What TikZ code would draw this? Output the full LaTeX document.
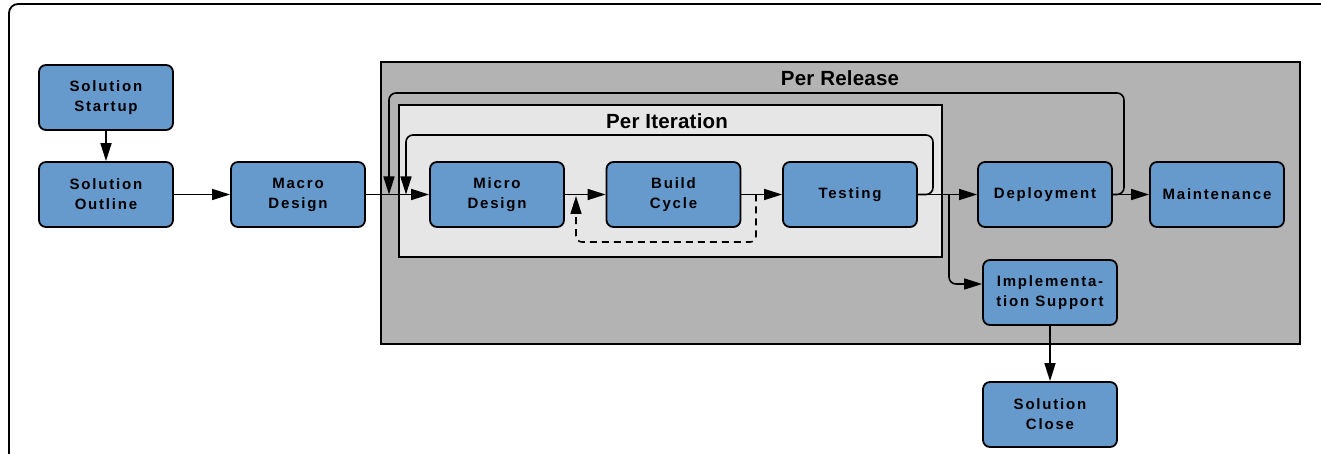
\documentclass[tikz,border=0pt]{standalone}
\usepackage{fontspec}
\setmainfont{Liberation Sans}
\newfontfamily\boxfam[LetterSpace=12]{Liberation Sans}
\newfontfamily\titlefam[LetterSpace=1]{Liberation Sans}
\usetikzlibrary{arrows.meta}
\definecolor{boxblue}{HTML}{6699CC}
\definecolor{relgray}{HTML}{B3B3B3}
\definecolor{itgray}{HTML}{E6E6E6}
\begin{document}
\begin{tikzpicture}[x=1pt,y=-1pt,
  stepbox/.style={draw, line width=1.8pt, rounded corners=7pt, fill=boxblue,
    minimum width=134pt, minimum height=65pt, align=center, inner sep=0pt,
    font=\boxfam\bfseries\fontsize{15}{20}\selectfont},
  conn/.style={line width=1.6pt, -{Triangle[length=18pt,width=11pt]}},
  region/.style={draw, line width=1.8pt},
  title/.style={font=\titlefam\bfseries\fontsize{20.5}{22}\selectfont, inner sep=0pt}]
\useasboundingbox (0,0) rectangle (1321,454);
% outer frame
\draw[line width=1.8pt, rounded corners=9pt] (9,4) rectangle (1345,480);
% regions
\draw[region, fill=relgray] (381,62) rectangle (1300,344);
\node[title] (reltitle) at (840,78) {Per Release};
\draw[region, fill=itgray] (399,105) rectangle (942,257);
\node[title] (ittitle) at (667,121) {Per Iteration};
% nodes
\node[stepbox] (start) at (106,97.5) {Solution\\Startup};
\node[stepbox] (outline) at (106,194.5) {Solution\\Outline};
\node[stepbox] (macro) at (298,194.5) {Macro\\Design};
\node[stepbox] (micro) at (497,194.5) {Micro\\Design};
\node[stepbox] (build) at (673.5,194.5) {Build\\Cycle};
\node[stepbox] (test) at (850,194.5) {Testing};
\node[stepbox] (deploy) at (1045,194.5) {Deployment};
\node[stepbox] (maint) at (1217,194.5) {Maintenance};
\node[stepbox] (impl) at (1050,292.5) {Implementa-\\tion Support};
\node[stepbox] (close) at (1050,414.5) {Solution\\Close};
% coordinates
\coordinate (olA) at (1124,194.5);
\coordinate (olB) at (1124,93);
\coordinate (olC) at (389,93);
\coordinate (olD) at (389,194.5);
\coordinate (ilA) at (933,194.5);
\coordinate (ilB) at (933,135);
\coordinate (ilC) at (406,135);
\coordinate (ilD) at (406,194.5);
\coordinate (br) at (949,194.5);
\coordinate (brB) at (949,284);
\coordinate (dA) at (756,194.5);
\coordinate (dB) at (756,242);
\coordinate (dC) at (576,242);
\coordinate (dD) at (576,196);
% connectors
\draw[conn] (start) -- (outline);
\draw[conn] (outline) -- (macro);
\draw[conn] (macro) -- (micro);
\draw[conn] (micro) -- (build);
\draw[conn] (build) -- (test);
\draw[conn] (test) -- (deploy);
\draw[conn] (deploy) -- (maint);
\draw[conn] (impl) -- (close);
\draw[conn, rounded corners=7pt] (test.east) -- (ilA) -- (ilB) -- (ilC) -- (ilD);
\draw[conn, rounded corners=7pt] (deploy.east) -- (olA) -- (olB) -- (olC) -- (olD);
\draw[conn, rounded corners=7pt] (br) -- (brB) -- (brB -| impl.west);
\draw[conn, dashed, dash pattern=on 7pt off 5pt, rounded corners=6pt] (dA) -- (dB) -- (dC) -- (dD);
\end{tikzpicture}
\end{document}
